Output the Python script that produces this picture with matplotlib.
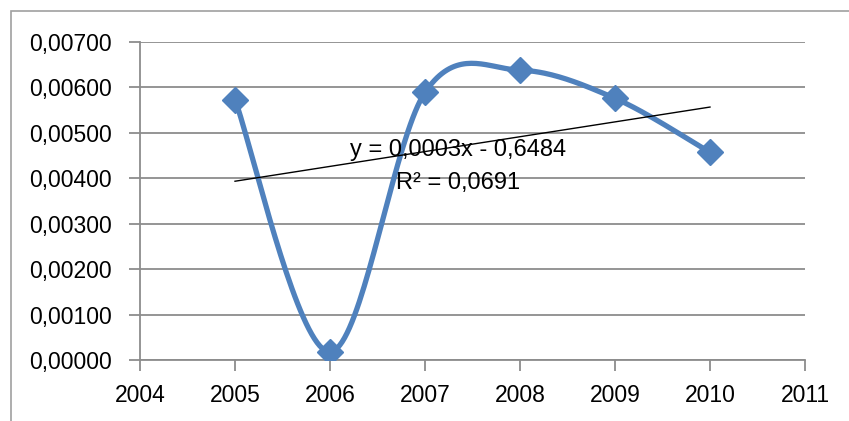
import numpy as np
import matplotlib.pyplot as plt
from matplotlib.patches import Rectangle
from matplotlib.ticker import FuncFormatter

years = [2005, 2006, 2007, 2008, 2009, 2010]
values = [0.00573, 0.00018, 0.00589, 0.00638, 0.00576, 0.00457]
eq_text = "y = 0,0003x - 0,6484"
r2_text = "R² = 0,0691"

blue = "#4F81BD"
grid_col = "#8C8C8C"

plt.rcParams['font.family'] = ['Liberation Sans', 'DejaVu Sans']


def smooth(xs, ys, n=40):
    # bezier segments with catmull-rom style control points (like excel's smoothed line)
    p = np.column_stack([xs, ys]).astype(float)
    p = np.vstack([p[0], p, p[-1]])
    out = []
    for i in range(1, len(p) - 2):
        p0, p1, p2, p3 = p[i - 1], p[i], p[i + 1], p[i + 2]
        c1 = p1 + (p2 - p0) / 6.0
        c2 = p2 - (p3 - p1) / 6.0
        t = np.linspace(0, 1, n)[:, None]
        seg = ((1 - t) ** 3) * p1 + 3 * ((1 - t) ** 2) * t * c1 + 3 * (1 - t) * t ** 2 * c2 + t ** 3 * p2
        out.append(seg if i == 1 else seg[1:])
    out = np.vstack(out)
    return out[:, 0], out[:, 1]


fig = plt.figure(figsize=(8.49, 4.21), dpi=100)
fig.patches.append(Rectangle((11 / 849, -0.2), 1.2, 1.2 + (421 - 11) / 421 - 1.0,
                             transform=fig.transFigure, fill=False,
                             edgecolor="#A0A0A0", linewidth=1.2))

ax = fig.add_axes([140 / 849, 1 - 360 / 421, (805 - 140) / 849, (360 - 42) / 421])

sx, sy = smooth(years, values)
ax.plot(sx, sy, color=blue, linewidth=3.8, solid_capstyle="round", zorder=3)
ax.plot(years, values, linestyle="none", marker="D", markersize=13,
        color=blue, zorder=4)

# linear trend
k, b = np.polyfit(years, values, 1)
tx = np.array([years[0], years[-1]])
ax.plot(tx, k * tx + b, color="black", linewidth=1.0, zorder=5)

ax.text(2007.35, 0.00462, eq_text, ha="center", va="center", fontsize=17, zorder=6)
ax.text(2007.35, 0.00389, r2_text, ha="center", va="center", fontsize=17, zorder=6)

ax.set_xlim(2004, 2011)
ax.set_ylim(0, 0.007)
ax.set_xticks(range(2004, 2012))
ax.set_yticks(np.arange(0, 0.0071, 0.001))
ax.yaxis.set_major_formatter(FuncFormatter(lambda v, p: f"{v:.5f}".replace(".", ",")))

ax.grid(axis="y", color=grid_col, linewidth=1.3)
ax.set_axisbelow(True)
for s in ["top", "right"]:
    ax.spines[s].set_visible(False)
for s in ["left", "bottom"]:
    ax.spines[s].set_color(grid_col)
    ax.spines[s].set_linewidth(1.3)
ax.tick_params(axis="both", color=grid_col, width=1.3, length=8)
ax.tick_params(axis="x", labelsize=16.5, pad=9)
ax.tick_params(axis="y", labelsize=16.5, pad=12)

fig.savefig("out.png", dpi=100)
